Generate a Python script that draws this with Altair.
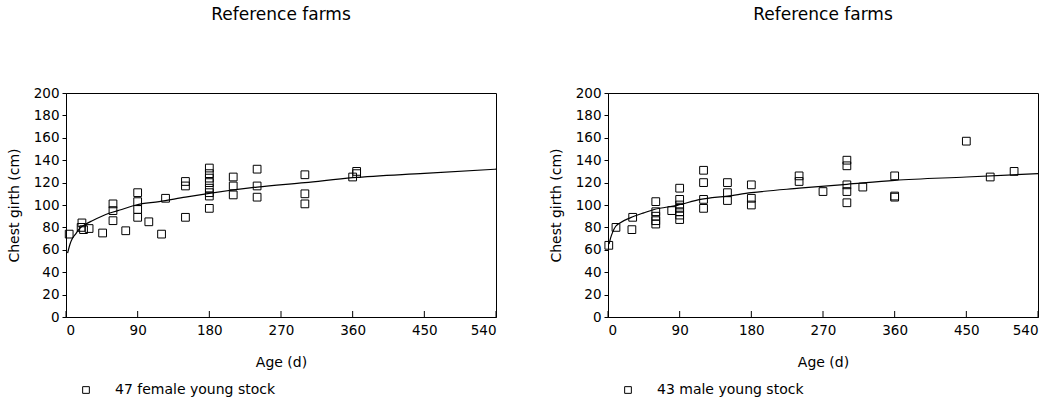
import altair as alt
import pandas as pd

FONT = "DejaVu Sans"

# Female young stock (left panel)
f_age = [4, 20, 19, 22, 29, 46, 59, 59, 59, 75, 90, 90, 90, 90, 104, 120, 125,
         150, 150, 150, 180, 180, 180, 180, 180, 180, 180, 180,
         210, 210, 210, 240, 240, 240, 300, 300, 300, 360, 365, 365]
f_girth = [74, 84, 80, 78, 79, 75, 101, 95, 86, 77, 111, 103, 96, 89, 85, 74, 106,
           121, 117, 89, 133, 128, 124, 120, 115, 111, 108, 97,
           125, 117, 109, 132, 117, 107, 127, 110, 101, 125, 130, 128]
f_curve_age = [2, 5, 8, 12, 17, 25, 33, 45, 54, 70, 88, 117, 150, 180, 240, 300, 360, 450, 540]
f_curve_girth = [57, 65, 70, 74, 79, 83, 86, 90, 92.6, 96, 100, 103, 107, 110.4, 116, 120, 124.4, 128.3, 132]

# Male young stock (right panel)
m_age = [1, 10, 30, 31, 60, 60, 60, 60, 60, 80, 90, 90, 90, 90, 90, 90, 90,
         120, 120, 120, 120, 150, 150, 150, 180, 180, 180, 240, 240, 270,
         300, 300, 300, 300, 300, 320, 360, 360, 360, 450, 480, 510]
m_girth = [64, 80, 78, 89, 103, 94, 90, 86, 83, 95, 115, 105, 100, 97, 94, 91, 87,
           131, 120, 105, 97, 120, 111, 104, 118, 106, 100, 126, 121, 112,
           140, 135, 118, 112, 102, 116, 126, 108, 107, 157, 125, 130]
m_curve_age = [1.3, 3.4, 6, 9.7, 15, 28.5, 45, 58, 87, 116, 150, 180, 240, 300, 360, 450, 540]
m_curve_girth = [65, 70.8, 76, 81, 84, 88.7, 93, 96, 99.7, 105, 108, 111, 115, 118.5, 122, 125, 128]

x_ticks = [0, 90, 180, 270, 360, 450, 540]
y_ticks = list(range(0, 201, 20))
titles = ["Reference farms", "Reference farms"]
groups = ["47 female young stock", "43 male young stock"]

W, H = 430, 224


def panel(ages, girths, cage, cgirth, group, title):
    pts = pd.DataFrame({"age": ages, "girth": girths, "group": group})
    crv = pd.DataFrame({"age": cage, "girth": cgirth})
    tk = pd.DataFrame({"age": x_ticks})
    xs = alt.Scale(domain=[0, 540], nice=False)
    ys = alt.Scale(domain=[0, 200], nice=False)
    xax = alt.Axis(values=x_ticks, title="Age (d)", ticks=False, labelPadding=6,
                   titlePadding=19, grid=False, labelOverlap=False,
                   labelFont=FONT, labelFontSize=13.5, titleFont=FONT, titleFontSize=14,
                   titleFontWeight="normal", labelColor="black", titleColor="black",
                   domainColor="black")
    yax = alt.Axis(values=y_ticks, title="Chest girth (cm)", tickSize=4, labelPadding=3,
                   titlePadding=12, grid=False, labelOverlap=False,
                   labelFont=FONT, labelFontSize=13.5, titleFont=FONT, titleFontSize=14,
                   titleFontWeight="normal", labelColor="black", titleColor="black",
                   domainColor="black", tickColor="black")
    X = alt.X("age:Q", scale=xs, axis=xax)
    Y = alt.Y("girth:Q", scale=ys, axis=yax)
    scatter = alt.Chart(pts).mark_point(shape="square", filled=False, color="black",
                                        strokeWidth=1, size=60, opacity=1).encode(
        x=X, y=Y,
        shape=alt.Shape("group:N", scale=alt.Scale(range=["square"]),
                        legend=alt.Legend(title=None, orient="none", legendX=13, legendY=290,
                                          symbolSize=45, symbolStrokeColor="black",
                                          symbolFillColor="white", symbolStrokeWidth=1,
                                          labelOffset=22, labelFont=FONT, labelFontSize=14,
                                          labelColor="black", labelLimit=400, padding=0)),
    )
    line = alt.Chart(crv).mark_line(color="black", strokeWidth=1.2,
                                    interpolate="monotone").encode(x=X, y=Y)
    ticks = alt.Chart(tk).mark_rule(color="black", strokeWidth=1).encode(
        x=X, y=alt.value(H - 6), y2=alt.value(H))
    return alt.layer(ticks, line, scatter).properties(
        width=W, height=H,
        title=alt.TitleParams(title, font=FONT, fontSize=17, fontWeight="normal",
                              color="black", offset=62, anchor="middle"))


left = panel(f_age, f_girth, f_curve_age, f_curve_girth, groups[0], titles[0])
right = panel(m_age, m_girth, m_curve_age, m_curve_girth, groups[1], titles[1])

chart = alt.hconcat(left, right, spacing=49).resolve_scale(
    shape="independent").resolve_legend(shape="independent").properties(
    padding={"left": 6, "top": 5, "right": 5, "bottom": 5}, background="white"
).configure_view(stroke="black", strokeWidth=1)

chart.save("out.html", embed_options={"renderer": "svg", "actions": False})
